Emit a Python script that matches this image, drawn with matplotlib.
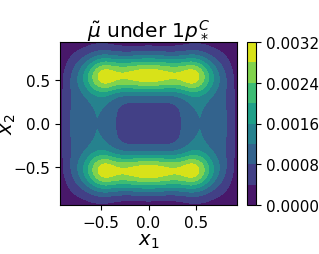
import numpy as np
import matplotlib
matplotlib.use("Agg")
import matplotlib.pyplot as plt

# ---- field description (mixture of bumps) ----
extent = 0.93
levels = [0.0, 0.0004, 0.0008, 0.0012, 0.0016, 0.0020, 0.0024, 0.0028, 0.0032]
cbar_ticks = [0.0, 0.0008, 0.0016, 0.0024, 0.0032]
axis_ticks = [-0.5, 0.0, 0.5]

# two horizontal bands
band_center_y = [-0.545, 0.545]
band_sigma_y_outer = 0.168
band_sigma_y_inner = 0.155
band_base = 0.0026
band_half_length = 0.42
band_sigma_x = 0.195
band_bump_x = [-0.43, 0.0, 0.43]
band_bump_w = [0.00005, 0.00048, 0.00005]
band_bump_sx = [0.07, 0.178, 0.07]

# central floor (flat-topped)
center_w = 0.00058
center_half = [0.509, 0.30]
center_power = [2.5, 3.5]

# weak vertical sides
side_x = [-0.55, 0.55]
side_sx = 0.15
side_sy = 0.50
side_w = 0.00099

outer_x = [-0.80, 0.80]
outer_sx = 0.10
outer_sy = 0.50
outer_w = 0.0006

n = 241
xs = np.linspace(-extent, extent, n)
X, Y = np.meshgrid(xs, xs)

def gauss(d, s):
    return np.exp(-0.5 * (d / s) ** 2)

over = np.clip(np.abs(X) - band_half_length, 0, None)
band_x = band_base * gauss(over, band_sigma_x)
band_x = band_x + sum(w * gauss(X - cx, sx)
                      for cx, w, sx in zip(band_bump_x, band_bump_w, band_bump_sx))

Z = np.zeros_like(X)
for cy in band_center_y:
    dy = Y - cy
    outward = np.sign(dy) == np.sign(cy)
    sy = np.where(outward, band_sigma_y_outer, band_sigma_y_inner)
    Z += band_x * gauss(dy, sy)
Z += center_w * np.exp(-(np.abs(X) / center_half[0]) ** center_power[0]
                       - (np.abs(Y) / center_half[1]) ** center_power[1])
for cx in side_x:
    Z += side_w * gauss(X - cx, side_sx) * gauss(Y, side_sy)
for cx in outer_x:
    Z += outer_w * gauss(X - cx, outer_sx) * gauss(Y, outer_sy)

fig = plt.figure(figsize=(3.19, 2.55), dpi=100)
ax = fig.add_axes([60 / 319, 1 - 206 / 255, 177 / 319, 163 / 255])
cax = fig.add_axes([247 / 319, 1 - 206 / 255, 9 / 319, 163 / 255])

cs = ax.contourf(X, Y, Z, levels=levels, cmap="viridis")
ax.set_xticks(axis_ticks)
ax.set_yticks(axis_ticks)
ax.tick_params(labelsize=11)
ax.set_xlabel(r"$x_1$", fontsize=14, labelpad=1)
ax.set_ylabel(r"$x_2$", fontsize=14, labelpad=-3)
ax.set_title(r"$\tilde{\mu}$ under $1p^C_*$", fontsize=14.5, pad=2)

cb = fig.colorbar(cs, cax=cax, ticks=cbar_ticks)
cb.ax.tick_params(labelsize=11)
cb.ax.set_yticklabels([f"{t:.4f}" for t in cbar_ticks])

fig.savefig("out.png", dpi=100)
